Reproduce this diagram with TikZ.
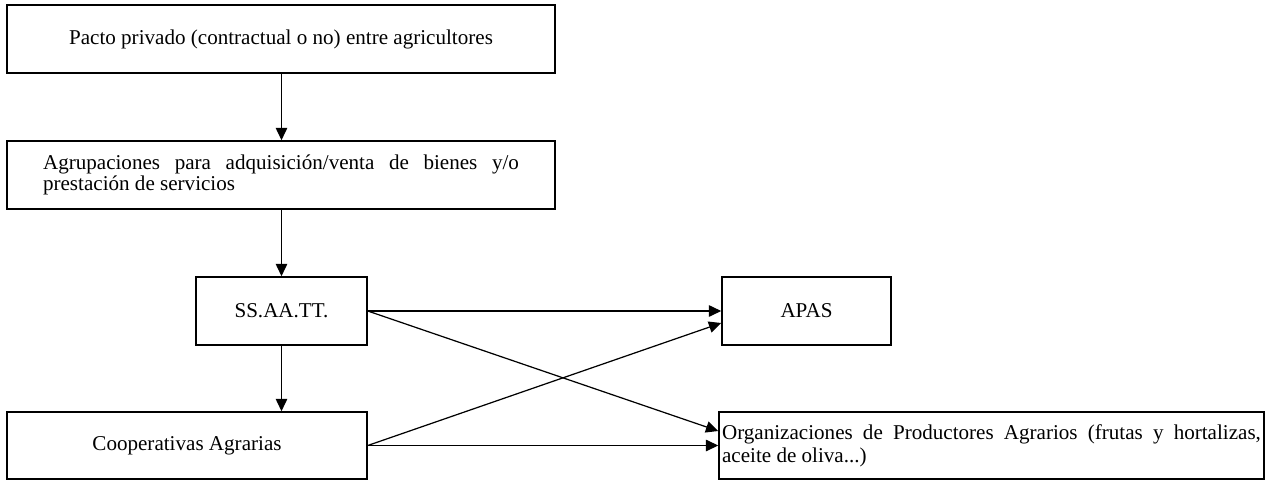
\documentclass[tikz,border=0pt]{standalone}
\usepackage{fontspec}
\setmainfont{Liberation Serif}
\usetikzlibrary{arrows.meta}
\tikzset{
  caja/.style={draw, line width=0.9pt, inner sep=0pt, font=\fontsize{12}{13}\selectfont},
  flecha/.style={line width=0.7pt, -{Triangle[length=7pt,width=6.5pt]}}
}
\begin{document}
\begin{tikzpicture}[x=0.02cm,y=-0.02cm]
\useasboundingbox (0,0) rectangle (1274,480);

% cajas
\node[caja, minimum width=10.96cm, minimum height=1.36cm] (pacto) at (281,39)
  {Pacto privado (contractual o no) entre agricultores};
\node[caja, minimum width=10.96cm, minimum height=1.36cm, text width=9.52cm, align=justify,
  font=\fontsize{12}{11.5}\selectfont] (agrup) at (281,175)
  {Agrupaciones para adquisición/venta de bienes y/o prestación de servicios};
\node[caja, minimum width=3.42cm, minimum height=1.36cm] (ss) at (281.5,311) {SS.AA.TT.};
\node[caja, minimum width=3.38cm, minimum height=1.36cm] (apas) at (806.5,311) {APAS};
\node[caja, minimum width=7.2cm, minimum height=1.34cm] (coop) at (187,445.5) {Cooperativas Agrarias};
\node[caja, minimum width=10.9cm, minimum height=1.34cm, text width=10.78cm, align=justify] (org) at (991.5,445.5)
  {Organizaciones de Productores Agrarios (frutas y hortalizas, aceite de oliva...)};

% flechas
\draw[flecha] (ss |- pacto.south) -- (ss |- agrup.north);
\draw[flecha] (ss |- agrup.south) -- (ss.north);
\draw[flecha] (ss.south) -- (ss |- coop.north);
\draw[flecha] (ss.east) -- (apas.west);
\draw[flecha] (ss.east) -- ([yshift=0.29cm]org.west);
\draw[flecha] (coop.east) -- ([yshift=-0.24cm]apas.west);
\draw[flecha] (coop.east) -- (org.west |- coop.east);
\end{tikzpicture}
\end{document}
